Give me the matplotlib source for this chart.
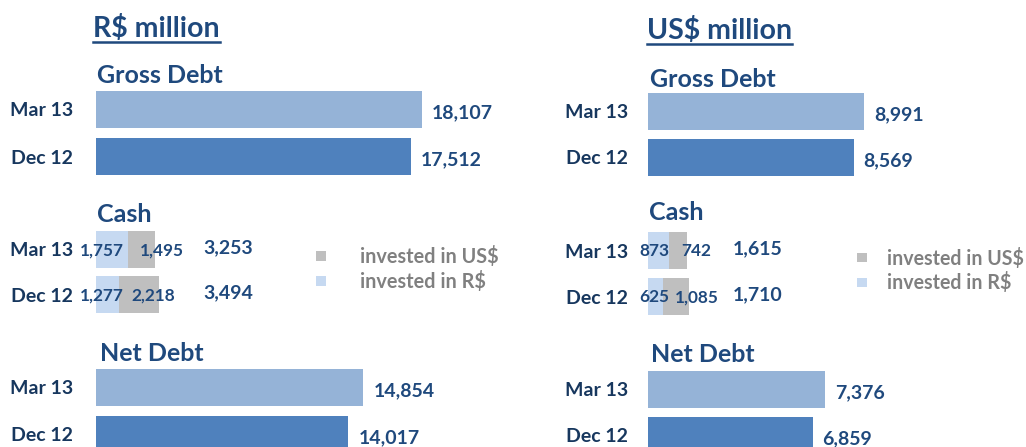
import matplotlib
matplotlib.use("Agg")
import matplotlib.pyplot as plt
from matplotlib.lines import Line2D

# ---------------- data ----------------
periods = ["Mar 13", "Dec 12"]

brl_gross = [18107, 17512]
brl_cash_in_brl = [1757, 1277]
brl_cash_in_usd = [1495, 2218]
brl_cash_total = [3253, 3494]
brl_net = [14854, 14017]

usd_gross = [8991, 8569]
usd_cash_in_brl = [873, 625]
usd_cash_in_usd = [742, 1085]
usd_cash_total = [1615, 1710]
usd_net = [7376, 6859]

panel_titles = ["R$ million", "US$ million"]
section_titles = ["Gross Debt", "Cash", "Net Debt"]
legend_labels = ["invested in US$", "invested in R$"]

# ---------------- style ----------------
W, H = 1026, 447
FONT = "Lato"
TITLE_C = "#1F497D"
ROW_C = "#17375E"
LEG_C = "#808080"
BAR_COLORS = ["#95B3D7", "#4F81BD"]
CASH_BRL_C = "#C6D9F1"
CASH_USD_C = "#BFBFBF"

plt.rcParams["font.family"] = [FONT, "DejaVu Sans"]
plt.rcParams["font.weight"] = "bold"

fig = plt.figure(figsize=(W / 100, H / 100), dpi=100)


def fy(y):
    return 1 - y / H


def section_axes(x0, x1, c0, c1, xscale):
    s = c1 - c0
    top = c0 - s / 2
    bottom = c1 + s / 2
    ax = fig.add_axes([x0 / W, 1 - bottom / H, (x1 - x0) / W, (bottom - top) / H])
    ax.set_ylim(1.5, -0.5)
    ax.set_xlim(0, (x1 - x0) / xscale)
    for sp in ax.spines.values():
        sp.set_visible(False)
    ax.set_xticks([])
    ax.patch.set_alpha(0)
    return ax, 37.0 / s


def style_rows(ax, pad):
    ax.set_yticks(range(len(periods)))
    ax.set_yticklabels(periods)
    ax.tick_params(axis="y", length=0, pad=pad, labelsize=14, labelcolor=ROW_C)
    for t in ax.get_yticklabels():
        t.set_fontweight("bold")


def value_bars(ax, values, bh, pad):
    y = list(range(len(values)))
    ax.barh(y, values, height=bh, color=BAR_COLORS)
    for yi, v in zip(y, values):
        ax.annotate(f"{v:,}", (v, yi), xytext=(10, -3), textcoords="offset pixels",
                    ha="left", va="center", fontsize=14, color=TITLE_C, fontweight="bold")
    style_rows(ax, pad)


def cash_bars(ax, in_brl, in_usd, totals, bh, pad, leg):
    y = list(range(len(in_brl)))
    b1 = ax.barh(y, in_brl, height=bh, color=CASH_BRL_C)
    b2 = ax.barh(y, in_usd, left=in_brl, height=bh, color=CASH_USD_C)
    for yi, a, b in zip(y, in_brl, in_usd):
        ax.annotate(f"{a:,}", (0, yi), xytext=(6, -1), textcoords="offset pixels",
                    ha="center", va="center", fontsize=12.4, color=TITLE_C, fontweight="bold")
        ax.annotate(f"{b:,}", (a, yi), xytext=(12, -1), textcoords="offset pixels",
                    ha="left", va="center", fontsize=12.4, color=TITLE_C, fontweight="bold")
    xt = max(totals)
    for yi, t in zip(y, totals):
        ax.annotate(f"{t:,}", (xt, yi), xytext=(44, 2), textcoords="offset pixels",
                    ha="left", va="center", fontsize=14, color=TITLE_C, fontweight="bold")
    style_rows(ax, pad)
    lx, ly, tpad, fsz, lsp = leg
    lg = ax.legend([b2, b1], legend_labels, loc="upper left",
                   bbox_to_anchor=(lx / W, fy(ly)),
                   bbox_transform=fig.transFigure, frameon=False,
                   handlelength=0.5, handleheight=0.38, handletextpad=tpad,
                   labelspacing=lsp, borderpad=0, borderaxespad=0,
                   prop={"family": [FONT, "DejaVu Sans"], "weight": "bold", "size": fsz})
    for t in lg.get_texts():
        t.set_color(LEG_C)


panels = [
    dict(x0=96, x1=560, scale=0.018, pad=16.5,
         gross=brl_gross, cb=brl_cash_in_brl, cu=brl_cash_in_usd, ct=brl_cash_total, net=brl_net,
         rows=[(109.5, 156.5), (249.5, 294.5), (387.5, 434.5)],
         title_xy=(93, 37), ul_y=41.5,
         sec_xy=[(97, 83), (97, 222), (100, 361)], leg=(316, 246, 1.7, 14.3, 0.22)),
    dict(x0=648, x1=1026, scale=0.024, pad=14.5,
         gross=usd_gross, cb=usd_cash_in_brl, cu=usd_cash_in_usd, ct=usd_cash_total, net=usd_net,
         rows=[(111.5, 157.5), (250.5, 296.5), (389.5, 435.5)],
         title_xy=(647, 39), ul_y=43.5,
         sec_xy=[(650, 87), (649, 220), (651, 362)], leg=(857, 247.5, 1.05, 14.1, 0.2)),
]

title_texts = []
for p, ptitle in zip(panels, panel_titles):
    ax, bh = section_axes(p["x0"], p["x1"], *p["rows"][0], p["scale"])
    value_bars(ax, p["gross"], bh, p["pad"])
    ax, bh = section_axes(p["x0"], p["x1"], *p["rows"][1], p["scale"])
    cash_bars(ax, p["cb"], p["cu"], p["ct"], bh, p["pad"], p["leg"])
    ax, bh = section_axes(p["x0"], p["x1"], *p["rows"][2], p["scale"])
    value_bars(ax, p["net"], bh, p["pad"])

    for (sx, sy), st in zip(p["sec_xy"], section_titles):
        fig.text(sx / W, fy(sy), st, ha="left", va="baseline", fontsize=18,
                 color=TITLE_C, fontweight="bold")
    tx, ty = p["title_xy"]
    t = fig.text(tx / W, fy(ty), ptitle, ha="left", va="baseline", fontsize=20.5,
                 color=TITLE_C, fontweight="bold")
    title_texts.append((t, p["ul_y"]))

fig.canvas.draw()
r = fig.canvas.get_renderer()
for t, uy in title_texts:
    bb = t.get_window_extent(renderer=r)
    fig.add_artist(Line2D([bb.x0 / W, bb.x1 / W], [fy(uy), fy(uy)],
                          transform=fig.transFigure, color=TITLE_C, linewidth=1.8))

fig.savefig("out.png", dpi=100)
